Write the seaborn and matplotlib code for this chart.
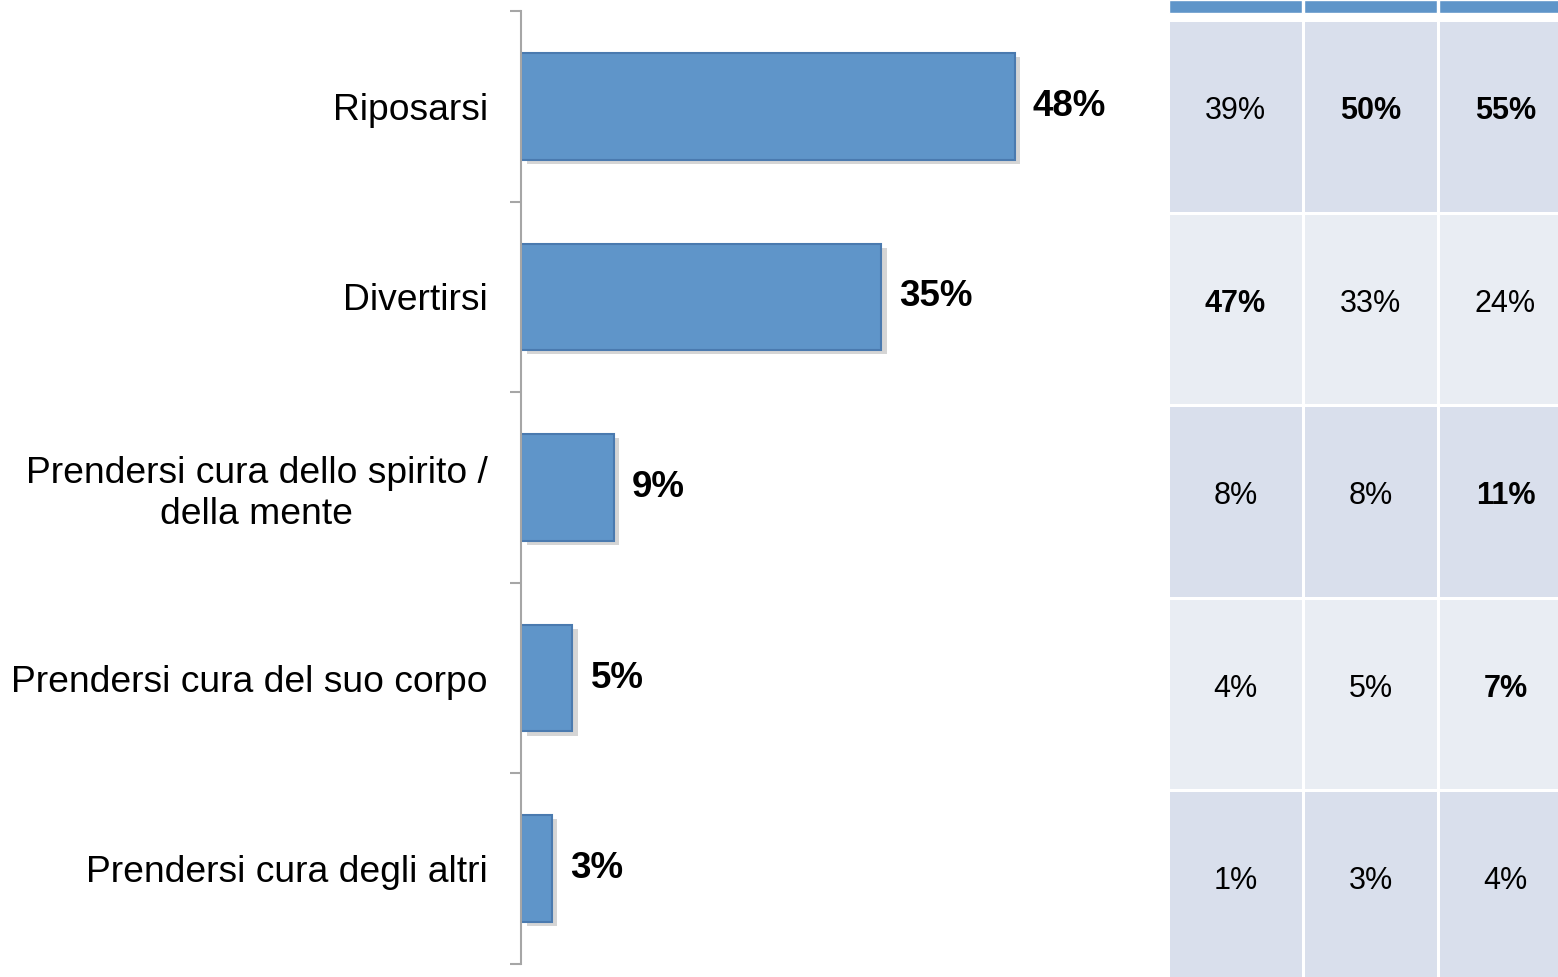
import numpy as np
import pandas as pd
import matplotlib
matplotlib.use("Agg")
import matplotlib.pyplot as plt
import matplotlib.patheffects as pe
from matplotlib.colors import ListedColormap
import seaborn as sns

sns.set_style("white")
plt.rcParams['font.family'] = ['Liberation Sans', 'DejaVu Sans']

# --- data ---
categories = ["Riposarsi", "Divertirsi", "Prendersi cura dello spirito /\ndella mente",
              "Prendersi cura del suo corpo", "Prendersi cura degli altri"]
totals = [48, 35, 9, 5, 3]

# table on the right (3 groups, one row per category)
col1 = [39, 47, 8, 4, 1]
col2 = [50, 33, 8, 5, 3]
col3 = [55, 24, 11, 7, 4]
bold1 = [False, True, False, False, False]
bold2 = [True, False, False, False, False]
bold3 = [True, False, True, True, False]

BAR = "#5F95C9"
EDGE = "#4A7AAF"
ODD = "#D9DFEC"
EVEN = "#E9EDF3"

W, H = 1558, 977
fig = plt.figure(figsize=(W / 100, H / 100), dpi=100)

# --- bar chart ---
ax = fig.add_axes([521 / W, (H - 964) / H, 638 / W, 953 / H])
df = pd.DataFrame({"cat": categories, "val": totals})
sns.barplot(data=df, y="cat", x="val", orient="h", color=BAR, width=0.56,
            edgecolor=EDGE, linewidth=1.5, saturation=1, ax=ax)
for p in ax.patches:
    p.set_path_effects([pe.SimplePatchShadow(offset=(4, -3), shadow_rgbFace="#888888", alpha=0.35),
                        pe.Normal()])
ax.bar_label(ax.containers[0], labels=[f"{v}%" for v in totals], padding=13,
             fontsize=26.5, fontweight="bold", color="black")
ax.set_xlim(0, 62)
ax.set_ylim(4.5, -0.5)
ax.set_xlabel("")
ax.set_ylabel("")
ax.xaxis.set_visible(False)
for s in ["top", "right", "bottom"]:
    ax.spines[s].set_visible(False)
ax.spines["left"].set_color("#A6A6A6")
ax.spines["left"].set_linewidth(1.5)
ax.set_yticks(np.arange(-0.5, 5, 1), minor=True)
ax.tick_params(axis="y", which="minor", left=True, length=8, width=1.5, color="#A6A6A6")
ax.tick_params(axis="y", which="major", left=False, length=0, pad=24, labelsize=26.8,
               labelcolor="black")
for lbl in ax.get_yticklabels():
    lbl.set_multialignment("center")

# --- table ---
pitch_y = 192.5
top_px = 20
tax = fig.add_axes([1168 / W, -(top_px + 5 * pitch_y - H) / H, 405 / W, (top_px + 5 * pitch_y) / H])
parity = np.array([[i % 2] * 3 for i in range(len(categories))])
sns.heatmap(parity, cmap=ListedColormap([ODD, EVEN]), cbar=False, linewidths=2,
            linecolor="white", ax=tax, vmin=0, vmax=1)
tax.set_xlim(0, 3)
tax.set_ylim(5, -top_px / pitch_y)
tax.bar(np.arange(3) + 0.5, height=13 / pitch_y, bottom=-top_px / pitch_y,
        width=1 - 2 / 135, color=BAR)
tax.axis("off")

for c, (vals, bolds) in enumerate([(col1, bold1), (col2, bold2), (col3, bold3)]):
    for r, (v, b) in enumerate(zip(vals, bolds)):
        tax.text(c + 0.5, r + 0.5 - 0.025, f"{v}%", ha="center", va="center",
                 fontsize=22, fontweight="bold" if b else "normal", color="black")

fig.savefig("out.png", dpi=100)
